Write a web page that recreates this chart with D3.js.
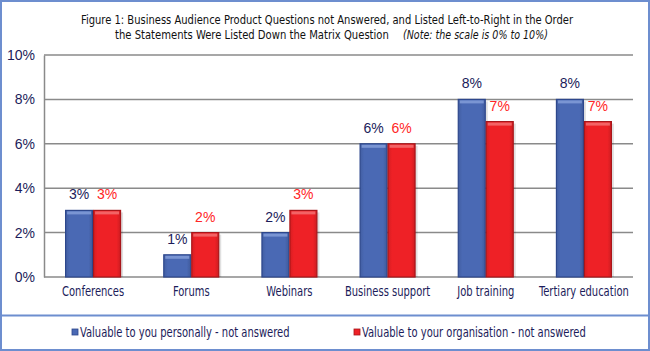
<!DOCTYPE html>
<html><head><meta charset="utf-8">
<script src="https://cdn.jsdelivr.net/npm/d3@7"></script>
<style>body{margin:0;background:#fff}svg{display:block}</style>
</head><body>
<svg id="c" width="650" height="351"></svg>
<script>
const categories = ["Conferences","Forums","Webinars","Business support","Job training","Tertiary education"];
const personal = [3,1,2,6,8,8];
const organisation = [3,2,3,6,7,7];
const seriesNames = ["Valuable to you personally - not answered","Valuable to your organisation - not answered"];
const yTicks = [0,2,4,6,8,10];
const titleLines = ["Figure 1: Business Audience Product Questions not Answered, and Listed Left-to-Right in the Order","the Statements Were Listed Down the Matrix Question"];
const titleNote = "(Note: the scale is 0% to 10%)";

const svg = d3.select("#c");
const W=650,H=351;
const condensed = "'DejaVu Sans Condensed','Liberation Sans Narrow',sans-serif";
const navy = "#1c1c5a";
const colors = [{fill:"#4a69b4",stroke:"#2d478c",hi:"#7f9ad6"},{fill:"#ee2126",stroke:"#a8161a",hi:"#f36a6d"}];
const labelColors = [navy,"#ff2626"];
const NARROW = 0.82;
function narrow(sel){
  sel.each(function(){
    const w=this.getComputedTextLength();
    d3.select(this).attr("textLength",w*NARROW).attr("lengthAdjust","spacingAndGlyphs");
  });
}
function fitText(x0,y0,txt,target,italic){
  const t = svg.append("text").attr("x",0).attr("y",0).attr("font-family",condensed).attr("font-size",12.5)
    .attr("fill","#111").attr("font-style",italic?"italic":"normal").text(txt);
  const w = t.node().getComputedTextLength();
  t.attr("transform",`translate(${x0},${y0}) scale(${target/w},1)`);
  return t;
}

// frame
svg.append("rect").attr("x",1).attr("y",1).attr("width",W-2).attr("height",H-2).attr("fill","#fff").attr("stroke","#6d8ecf").attr("stroke-width",2);
svg.append("line").attr("x1",1).attr("x2",W-1).attr("y1",315.5).attr("y2",315.5).attr("stroke","#6d8ecf").attr("stroke-width",2);

// title
fitText(81,24,titleLines[0],493,false);
fitText(115,39,titleLines[1],274,false);
fitText(403,39,titleNote,145,true);

const m={l:44,r:633,t:55,b:277};
const x = d3.scaleBand().domain(categories).range([m.l,m.r]).paddingInner(0.43).paddingOuter(0.215);
const x1 = d3.scaleBand().domain([0,1]).range([0,x.bandwidth()]);
const y = d3.scaleLinear().domain([0,10]).range([m.b,m.t]);

// grid
svg.append("g").selectAll("line").data(yTicks.slice(1)).join("line")
  .attr("x1",m.l).attr("x2",m.r).attr("y1",d=>y(d)).attr("y2",d=>y(d))
  .attr("stroke","#8a8a8a").attr("stroke-width",1.5);

// y axis
const ya = svg.append("g").attr("transform",`translate(${m.l},0)`)
  .call(d3.axisLeft(y).tickValues(yTicks).tickFormat(d=>d+"%").tickSize(0).tickPadding(9));
ya.select(".domain").attr("stroke","#8a8a8a").attr("stroke-width",1.5);
ya.selectAll("text").attr("font-family","Arial,'Liberation Sans',sans-serif").attr("font-size",14).attr("fill",navy);

// x axis
svg.append("line").attr("x1",m.l).attr("x2",m.r).attr("y1",m.b).attr("y2",m.b).attr("stroke","#8a8a8a").attr("stroke-width",1.5);
const xa = svg.append("g").attr("transform",`translate(0,${m.b})`)
  .call(d3.axisBottom(x).tickSize(0).tickPadding(9));
xa.select(".domain").remove();
xa.selectAll("text").attr("font-family",condensed).attr("font-size",13.5).attr("fill",navy).call(narrow);

// gradients
const defs = svg.append("defs");
colors.forEach((c,i)=>{
  const g = defs.append("linearGradient").attr("id","g"+i).attr("x1",0).attr("x2",1).attr("y1",0).attr("y2",0);
  g.append("stop").attr("offset","0%").attr("stop-color",d3.color(c.fill).darker(0.3));
  g.append("stop").attr("offset","15%").attr("stop-color",c.fill);
  g.append("stop").attr("offset","85%").attr("stop-color",c.fill);
  g.append("stop").attr("offset","100%").attr("stop-color",d3.color(c.fill).darker(0.4));
});

const series=[personal,organisation];
series.forEach((vals,si)=>{
  const g = svg.append("g");
  const bx = (d,i)=>x(categories[i])+x1(si);
  g.selectAll("rect.sh").data(vals).join("rect").attr("class","sh")
    .attr("x",(d,i)=>bx(d,i)+2).attr("y",d=>y(d)+2).attr("width",x1.bandwidth()).attr("height",d=>m.b-y(d)-2)
    .attr("fill","#000").attr("opacity",0.12);
  g.selectAll("rect.b").data(vals).join("rect").attr("class","b")
    .attr("x",(d,i)=>bx(d,i)+0.5).attr("y",d=>y(d)).attr("width",x1.bandwidth()-1).attr("height",d=>m.b-y(d))
    .attr("fill","url(#g"+si+")").attr("stroke",colors[si].stroke).attr("stroke-width",1.2);
  g.selectAll("rect.h").data(vals).join("rect").attr("class","h")
    .attr("x",(d,i)=>bx(d,i)+2).attr("y",d=>y(d)+1).attr("width",x1.bandwidth()-4).attr("height",3)
    .attr("fill",colors[si].hi).attr("opacity",0.9);
  g.selectAll("text").data(vals).join("text")
    .attr("x",(d,i)=>bx(d,i)+x1.bandwidth()/2).attr("y",d=>y(d)-11)
    .attr("text-anchor","middle").attr("font-family","Arial,'Liberation Sans',sans-serif").attr("font-size",14)
    .attr("fill",labelColors[si]).text(d=>d+"%");
});

// legend
const lg = svg.append("g");
const lx=[72,354];
seriesNames.forEach((n,i)=>{
  lg.append("rect").attr("x",lx[i]).attr("y",329).attr("width",6).attr("height",6).attr("fill",colors[i].fill).attr("stroke",colors[i].stroke).attr("stroke-width",0.8);
  lg.append("text").attr("x",lx[i]+8).attr("y",337).attr("font-family",condensed).attr("font-size",13.5).attr("fill",navy).text(n).call(narrow);
});
</script>
</body></html>
